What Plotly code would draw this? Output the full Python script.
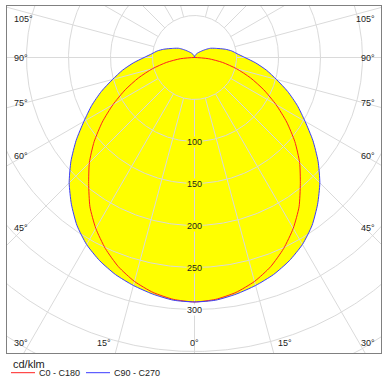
import numpy as np
import plotly.graph_objects as go

# ---------------- data (cd/klm) ----------------
c90_angles = list(range(0, 181, 5))
c90_c270 = [291, 290, 286, 281, 275, 267, 257, 244, 228, 211, 192, 172, 152, 135,
            118, 101, 87, 73, 60, 51, 45, 38, 31, 26, 22, 17, 13, 10, 8, 6.5, 5,
            4, 3, 2, 1.5, 0.7, 0]
c0_angles = list(range(0, 91, 5))
c0_c180 = [291, 289, 284, 276, 265, 251, 235, 217, 196, 177, 156, 134, 112, 91,
           71, 52, 34, 17, 0]
radial_tick_values = [100, 150, 200, 250, 300]
grid_radii = [50, 100, 150, 200, 250, 300, 350, 400, 450, 500]
angle_tick_values = [0, 15, 30, 45, 60, 75, 90, 105]
radial_line_angles = [0, 15, 30, 45, 60, 75, 90, 105, 120, 135, 150, 165]
unit_label = "cd/klm"
series_names = ["C0 - C180", "C90 - C270"]
series_colors = ["#ff2020", "#3a3aff"]

# ---------------- geometry ----------------
W, H = 392, 383
L, R, T, B = 7, 11, 6, 30          # plot-area margins (px)
CX, CY = 194.5, 57.5               # polar centre (px)
K = 0.84                           # px per cd/klm
X0, X1 = -(CX - L) / K, (W - R - CX) / K
Y1, Y0 = (CY - T) / K, -((H - B) - CY) / K
PW, PH = W - L - R, H - T - B


def px_to_paper(px, py):
    return (px - L) / PW, ((H - B) - py) / PH


def mirror(angles, vals):
    a = [-x for x in angles[::-1]] + angles[1:]
    v = vals[::-1] + vals[1:]
    return np.radians(a), np.array(v, dtype=float)


def to_xy(th, r):
    return r * np.sin(th), -r * np.cos(th)


fig = go.Figure()

# yellow fill (union of both curves)
thb, rb = mirror(c90_angles, c90_c270)
xb, yb = to_xy(thb, rb)
thr, rr = mirror(c0_angles, c0_c180)
xr, yr = to_xy(thr, rr)
fig.add_trace(go.Scatter(x=xb, y=yb, mode="lines", fill="toself",
                         fillcolor="#ffff00",
                         line=dict(width=0, color="#ffff00", shape="spline", smoothing=0.6),
                         showlegend=False, hoverinfo="skip"))

# grid circles
phi = np.linspace(0, 2 * np.pi, 721)
gx, gy = [], []
for rad in grid_radii:
    gx += list(rad * np.cos(phi)) + [None]
    gy += list(rad * np.sin(phi)) + [None]
# radial lines
for a in radial_line_angles:
    for s in ([1] if a == 0 else [-1, 1]):
        th = np.radians(s * a)
        x0, y0 = to_xy(th, grid_radii[0])
        x1, y1 = to_xy(th, 700)
        gx += [x0, x1, None]
        gy += [y0, y1, None]
fig.add_trace(go.Scatter(x=gx, y=gy, mode="lines",
                         line=dict(color="#dadada", width=1),
                         showlegend=False, hoverinfo="skip"))

# curves
fig.add_trace(go.Scatter(x=xr, y=yr, mode="lines", name=series_names[0],
                         line=dict(color=series_colors[0], width=1, shape="spline",
                                   smoothing=0.6), showlegend=False))
fig.add_trace(go.Scatter(x=xb, y=yb, mode="lines", name=series_names[1],
                         line=dict(color=series_colors[1], width=1, shape="spline",
                                   smoothing=0.6), showlegend=False))

FONT = "Liberation Sans, Arial, sans-serif"
TXT = "#222222"

# radial value labels on the 0° axis
for v in radial_tick_values:
    bg = "#ffff00" if v < c90_c270[0] else "#ffffff"
    fig.add_annotation(x=0, y=-v, xref="x", yref="y", text=str(v), showarrow=False,
                       font=dict(family=FONT, size=9, color=TXT), bgcolor=bg,
                       borderpad=0, xanchor="center", yanchor="middle")

# angle labels
for a in angle_tick_values:
    th = np.radians(a)
    if a >= 45:
        d = 170 / K
        y = -d * np.cos(th) / np.sin(th)
        y = min(y, Y1 - 12.5 / K)
        for side in (-1, 1):
            fig.add_annotation(x=(X0 + 5 / K) if side < 0 else (X1 - 4 / K), y=y,
                               xref="x", yref="y", text=f"{a}°", showarrow=False,
                               font=dict(family=FONT, size=9, color=TXT),
                               xanchor="left" if side < 0 else "right",
                               yanchor="middle")
    else:
        y = Y0 + 10 / K
        dx = (-Y0) * np.tan(th)
        if a == 0:
            fig.add_annotation(x=0, y=y, xref="x", yref="y", text=f"{a}°",
                               showarrow=False, font=dict(family=FONT, size=9, color=TXT),
                               xanchor="center", yanchor="middle")
            continue
        for side in (-1, 1):
            if dx * K > 160:
                x = (X0 + 5 / K) if side < 0 else (X1 - 4 / K)
                anc = "left" if side < 0 else "right"
            else:
                x = side * (dx + 2 / K)
                anc = "right" if side < 0 else "left"
            fig.add_annotation(x=x, y=y, xref="x", yref="y", text=f"{a}°",
                               showarrow=False, font=dict(family=FONT, size=9, color=TXT),
                               xanchor=anc, yanchor="middle")

# legend (drawn below the plot box)
tx, ty = px_to_paper(11, 363.5)
fig.add_annotation(x=tx, y=ty, xref="paper", yref="paper", text=unit_label,
                   showarrow=False, xanchor="left", yanchor="middle",
                   font=dict(family=FONT, size=11, color=TXT))
for i, (name, col) in enumerate(zip(series_names, series_colors)):
    x_start = 11 + i * 75
    lx0, ly = px_to_paper(x_start, 372.7)
    lx1, _ = px_to_paper(x_start + 24, 372.7)
    fig.add_shape(type="line", xref="paper", yref="paper", x0=lx0, x1=lx1, y0=ly, y1=ly,
                  line=dict(color=col, width=1))
    ttx, _ = px_to_paper(x_start + 25.5, 372.7)
    fig.add_annotation(x=ttx, y=ly, xref="paper", yref="paper", text=name,
                       showarrow=False, xanchor="left", yanchor="middle",
                       font=dict(family=FONT, size=9, color=TXT))

fig.update_layout(
    width=W, height=H,
    margin=dict(l=L, r=R, t=T, b=B, pad=0, autoexpand=False),
    paper_bgcolor="white", plot_bgcolor="white",
    showlegend=False,
    xaxis=dict(range=[X0, X1], showgrid=False, zeroline=False, showticklabels=False,
               ticks="", showline=True, mirror=True, linecolor="#808080", linewidth=1,
               fixedrange=True),
    yaxis=dict(range=[Y0, Y1], showgrid=False, zeroline=False, showticklabels=False,
               ticks="", showline=True, mirror=True, linecolor="#808080", linewidth=1,
               fixedrange=True),
)

fig.write_html("out.html", config={"displayModeBar": False},
               post_script="document.body.style.margin='0px';document.body.style.overflow='hidden';")
